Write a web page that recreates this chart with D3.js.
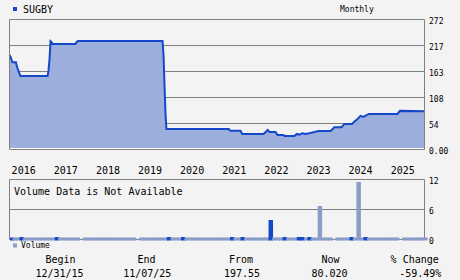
<!DOCTYPE html>
<html lang="en">
<head>
<meta charset="UTF-8">
<title>SUGBY Monthly</title>
<style>
    body {
        margin: 0;
        padding: 0;
        background: #f3f3f3;
    }

    svg {
        display: block;
    }

    text {
        font-family: "DejaVu Sans Mono", monospace;
        fill: #000;
    }
</style>
</head>
<body>
<svg id="chart" width="460" height="280"></svg>

<script src="https://d3js.org/d3.v7.min.js"></script>
<script>
    var symbol = "SUGBY";
    var period = "Monthly";

    // price (step-like series)
    var priceDates = [
        "2015-12-31", "2016-01-09", "2016-01-17", "2016-01-26", "2016-02-25", "2016-03-01",
        "2016-03-09", "2016-03-18", "2016-03-27", "2016-04-04", "2016-11-25", "2016-12-03",
        "2016-12-12", "2016-12-21", "2016-12-29", "2017-01-07", "2017-07-26", "2017-08-03",
        "2017-08-16", "2019-08-19", "2019-08-28", "2019-09-05", "2019-09-14", "2019-09-22",
        "2021-03-16", "2021-03-22", "2021-03-30", "2021-06-25", "2021-07-10", "2022-01-11",
        "2022-02-17", "2022-03-04", "2022-04-25", "2022-05-12", "2022-07-03", "2022-07-12",
        "2022-10-06", "2022-10-28", "2022-11-19", "2022-12-15", "2023-01-10", "2023-02-22",
        "2023-03-20", "2023-05-03", "2023-08-15", "2023-09-18", "2023-11-18", "2023-12-14",
        "2024-02-17", "2024-03-10", "2024-04-05", "2024-05-01", "2024-05-27", "2024-06-22",
        "2024-07-14", "2025-03-18", "2025-04-08", "2025-11-07"
    ];
    var priceValues = [
        197.55, 193.5, 188, 182.5, 182.5, 177,
        170.5, 164.5, 158, 154, 154, 164.5,
        189, 226.5, 224.5, 221, 221, 224.5,
        227, 227, 197, 136, 74, 43,
        43, 40.4, 39, 39, 32.6, 32.6,
        41, 36.5, 36.5, 30.5, 30.5, 28.5,
        28.5, 32.6, 31, 34.1, 32.6, 34.7,
        36.2, 38.9, 38.9, 46.7, 46.7, 53.6,
        53.6, 58.6, 64, 70.3, 68.2, 71.8,
        74.5, 74.5, 80.8, 80.02
    ];

    var priceTicks = [0, 54.4, 108.8, 163.2, 217.6, 272];
    var priceTickLabels = ["0.00", "54", "108", "163", "217", "272"];
    var years = [2016, 2017, 2018, 2019, 2020, 2021, 2022, 2023, 2024, 2025];

    // monthly volume, Jan 2016 .. Nov 2025 (one row per year)
    var volume = [
        0.4, 0.4, 0.4, 0.5, 0.4, 0.4, 0.4, 0.4, 0.4, 0.4, 0.4, 0.4,
        0.4, 0.5, 0.4, 0.4, 0.4, 0.4, 0.4, 0.4, 0, 0.4, 0.4, 0.4,
        0.4, 0.4, 0.4, 0.4, 0.4, 0.4, 0.4, 0.4, 0.4, 0.4, 0.4, 0.4,
        0, 0.4, 0.4, 0.4, 0.4, 0.4, 0.4, 0.4, 0.4, 0.5, 0.4, 0.4,
        0.4, 0.5, 0.4, 0.4, 0.4, 0.4, 0.4, 0.4, 0.4, 0.4, 0.4, 0.4,
        0.4, 0.4, 0.4, 0.5, 0.4, 0.4, 0.5, 0.4, 0.4, 0.4, 0.4, 0.4,
        0.4, 0.4, 3.9, 0.4, 0.4, 0.4, 0.5, 0.4, 0.4, 0.4, 0.5, 0.5,
        0.4, 0.5, 0.4, 0.4, 6.7, 0.4, 0.4, 0.4, 0, 0.4, 0.4, 0.4,
        0.4, 0.5, 0.4, 11.5, 0.4, 0.5, 0.4, 0.4, 0.4, 0.4, 0.4, 0.4,
        0.4, 0.4, 0.4, 0, 0.4, 0.4, 0.4, 0.4, 0.4, 0.4, 0.4
    ];
    var volumeUp = [
        1, 0, 0, 1, 0, 0, 0, 0, 0, 0, 0, 0,
        0, 1, 0, 0, 0, 0, 0, 0, 0, 0, 0, 0,
        0, 0, 0, 0, 0, 0, 0, 0, 0, 0, 0, 0,
        0, 0, 0, 0, 0, 0, 0, 0, 0, 1, 0, 0,
        0, 1, 0, 0, 0, 0, 0, 0, 0, 0, 0, 0,
        0, 0, 0, 1, 0, 0, 1, 0, 0, 0, 0, 0,
        0, 0, 1, 0, 0, 0, 1, 0, 0, 0, 1, 1,
        0, 1, 0, 0, 0, 0, 0, 0, 0, 0, 0, 0,
        0, 1, 0, 0, 0, 1, 0, 0, 0, 0, 0, 0,
        0, 0, 0, 0, 0, 0, 0, 0, 0, 0, 0
    ];
    var volumeTicks = [0, 6, 12];

    var statLabels = ["Begin", "End", "From", "Now", "% Change"];
    var statValues = ["12/31/15", "11/07/25", "197.55", "80.020", "-59.49%"];

    var lineColor = "#1448c8",
        fillColor = "#9cafdc",
        volColor = "#8a9cc8",
        gridColor = "#808080";

    var parse = d3.timeParse("%Y-%m-%d");
    var prices = priceDates.map(function (d, i) {
        return {date: parse(d), value: priceValues[i]};
    });

    var svg = d3.select("#chart");

    var x = d3.scaleTime()
        .domain([parse("2015-12-31"), parse("2025-11-07")])
        .range([9.5, 424.5]);

    var y = d3.scaleLinear()
        .domain([0, 272])
        .range([149.5, 19.5]);

    var yVol = d3.scaleLinear()
        .domain([0, 12])
        .range([239.5, 179.5]);

    // header
    svg.append("rect")
        .attr("x", 13).attr("y", 7).attr("width", 4).attr("height", 4)
        .attr("fill", lineColor);
    svg.append("text")
        .attr("x", 23).attr("y", 12.5)
        .style("font-size", "10px")
        .text(symbol);
    svg.append("text")
        .attr("x", 340).attr("y", 11.5)
        .style("font-size", "8px")
        .text(period);

    // grid (behind the area)
    svg.append("g")
        .selectAll("line")
        .data(priceTicks)
        .enter()
        .append("line")
        .attr("x1", 9.5).attr("x2", 424.5)
        .attr("y1", function (d) { return y(d); })
        .attr("y2", function (d) { return y(d); })
        .attr("stroke", gridColor);

    // price area + line
    svg.append("path")
        .datum(prices)
        .attr("fill", fillColor)
        .attr("d", d3.area()
            .x(function (d) { return x(d.date); })
            .y0(y(0) - 1.5)
            .y1(function (d) { return y(d.value); }));

    svg.append("line")
        .attr("x1", 10).attr("x2", 424)
        .attr("y1", y(0) - 1).attr("y2", y(0) - 1)
        .attr("stroke", "#ffffff");

    svg.append("path")
        .datum(prices)
        .attr("fill", "none")
        .attr("stroke", lineColor)
        .attr("stroke-width", 2)
        .attr("d", d3.line()
            .x(function (d) { return x(d.date); })
            .y(function (d) { return y(d.value); }));

    svg.append("line")
        .attr("x1", 9.5).attr("x2", 9.5)
        .attr("y1", 19.5).attr("y2", 149.5)
        .attr("stroke", gridColor);
    svg.append("line")
        .attr("x1", 424.5).attr("x2", 424.5)
        .attr("y1", 19.5).attr("y2", 149.5)
        .attr("stroke", gridColor);

    svg.append("g")
        .selectAll("text")
        .data(priceTicks)
        .enter()
        .append("text")
        .attr("x", 429)
        .attr("y", function (d) { return y(d) + 4.5; })
        .style("font-size", "8px")
        .text(function (d, i) { return priceTickLabels[i]; });

    // years
    svg.append("g")
        .selectAll("text")
        .data(years)
        .enter()
        .append("text")
        .attr("x", function (d) { return x(new Date(d, 0, 1)) + 2; })
        .attr("y", 174)
        .style("font-size", "10px")
        .text(function (d) { return d; });

    // volume panel
    svg.append("g")
        .selectAll("line")
        .data(volumeTicks)
        .enter()
        .append("line")
        .attr("x1", 9.5).attr("x2", 424.5)
        .attr("y1", function (d) { return yVol(d); })
        .attr("y2", function (d) { return yVol(d); })
        .attr("stroke", gridColor);
    svg.append("line")
        .attr("x1", 9.5).attr("x2", 9.5)
        .attr("y1", 179.5).attr("y2", 239.5)
        .attr("stroke", gridColor);
    svg.append("line")
        .attr("x1", 424.5).attr("x2", 424.5)
        .attr("y1", 179.5).attr("y2", 239.5)
        .attr("stroke", gridColor);

    svg.append("text")
        .attr("x", 14).attr("y", 194.5)
        .style("font-size", "10px")
        .text("Volume Data is Not Available");

    var bars = svg.append("g");
    volume.forEach(function (v, i) {
        if (v <= 0) return;
        var mid = x(new Date(2016, i, 15));
        bars.append("rect")
            .attr("x", Math.max(10, mid - 2.25))
            .attr("width", 4.5)
            .attr("y", yVol(v))
            .attr("height", yVol(0) + 1 - yVol(v))
            .attr("fill", volumeUp[i] ? lineColor : volColor);
    });

    svg.append("g")
        .selectAll("text")
        .data(volumeTicks)
        .enter()
        .append("text")
        .attr("x", 429)
        .attr("y", function (d) { return yVol(d) + 4.5; })
        .style("font-size", "8px")
        .text(function (d) { return d; });

    svg.append("rect")
        .attr("x", 13).attr("y", 243.5).attr("width", 4).attr("height", 4)
        .attr("fill", volColor);
    svg.append("text")
        .attr("x", 21).attr("y", 248)
        .style("font-size", "8px")
        .text("Volume");

    // summary
    var labelX = [60.5, 146.5, 241, 330.5, 414.7];
    var valueX = [59.5, 147.3, 242, 329.5, 420.3];
    svg.append("g")
        .selectAll("text")
        .data(statLabels)
        .enter()
        .append("text")
        .attr("x", function (d, i) { return labelX[i]; })
        .attr("y", 263)
        .attr("text-anchor", "middle")
        .style("font-size", "10px")
        .text(function (d) { return d; });
    svg.append("g")
        .selectAll("text")
        .data(statValues)
        .enter()
        .append("text")
        .attr("x", function (d, i) { return valueX[i]; })
        .attr("y", 277)
        .attr("text-anchor", "middle")
        .style("font-size", "10px")
        .text(function (d) { return d; });
</script>
</body>
</html>
